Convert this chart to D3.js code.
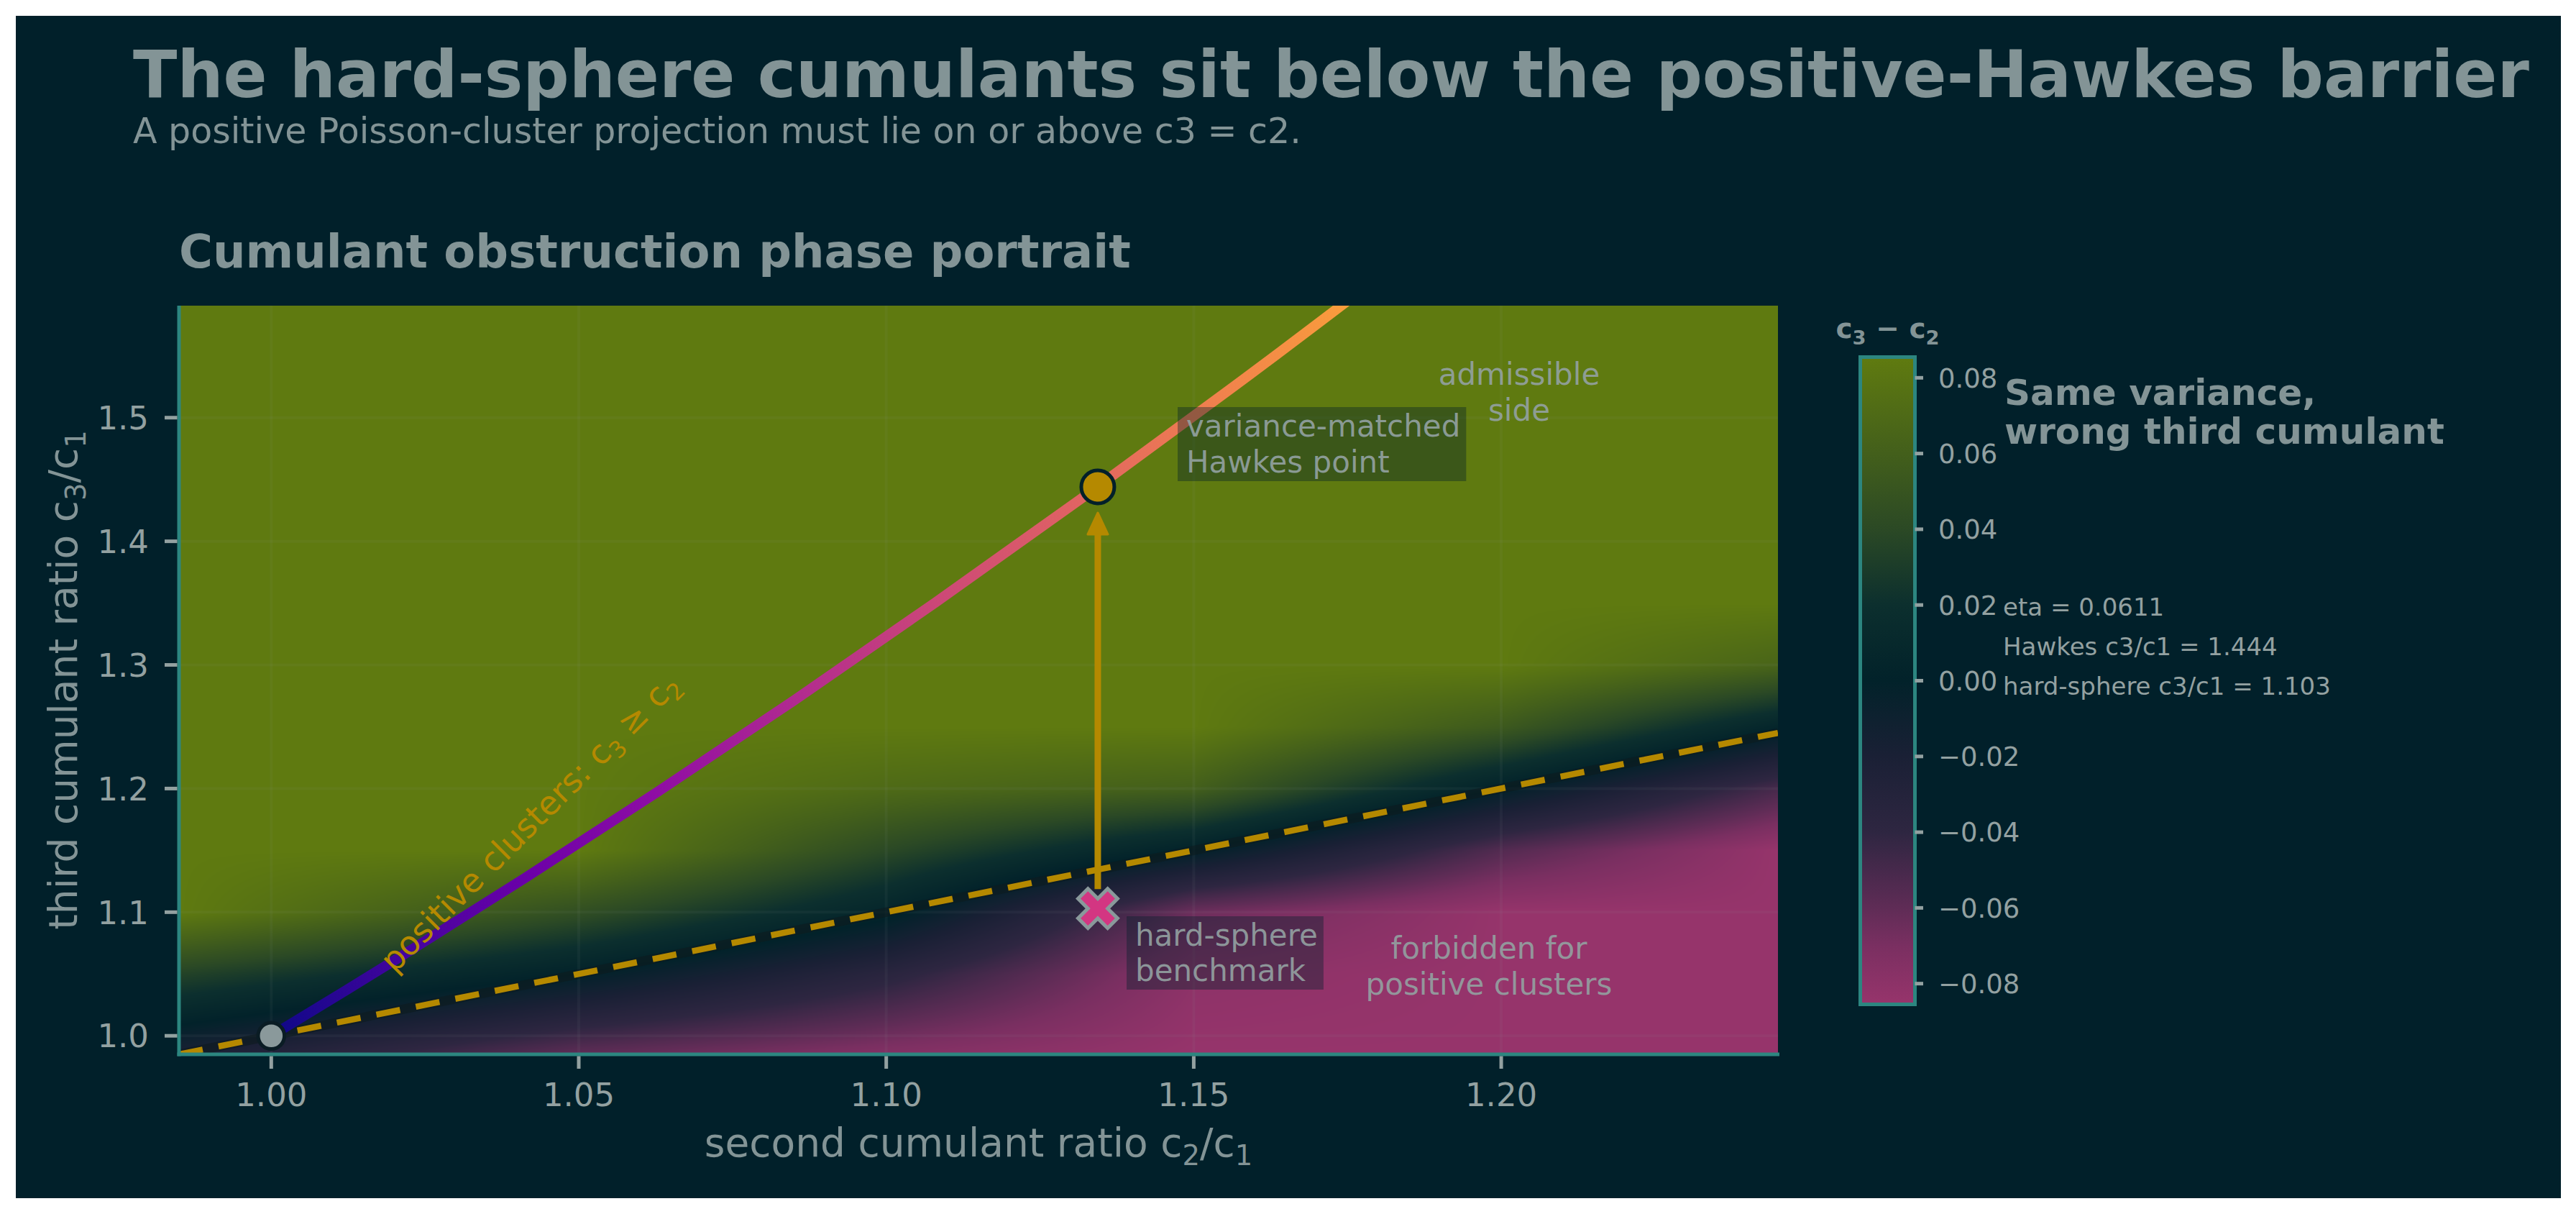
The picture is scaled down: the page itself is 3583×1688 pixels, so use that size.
<!DOCTYPE html>
<html>
<head>
<meta charset="utf-8">
<script src="https://cdn.jsdelivr.net/npm/d3@7"></script>
<style>
  body { margin: 0; background: #ffffff; }
  svg { display: block; }
  text { font-family: "DejaVu Sans", sans-serif; }
</style>
</head>
<body>
<div id="chart"></div>
<script>
// ---- data ----
var xTicks = [1.00, 1.05, 1.10, 1.15, 1.20];
var yTicks = [1.0, 1.1, 1.2, 1.3, 1.4, 1.5];
var cbarTicks = [0.08, 0.06, 0.04, 0.02, 0.00, -0.02, -0.04, -0.06, -0.08];

// positive Hawkes curve: branching ratio, c2/c1, c3/c1
var hawkesEta = [0.00, 0.01, 0.02, 0.03, 0.04, 0.05, 0.06, 0.07, 0.08, 0.09, 0.10];
var hawkesC2 = [1.0000, 1.0203, 1.0412, 1.0628, 1.0851, 1.1080, 1.1317, 1.1562, 1.1815, 1.2076, 1.2346];
var hawkesC3 = [1.0000, 1.0618, 1.1275, 1.1973, 1.2716, 1.3505, 1.4345, 1.5240, 1.6192, 1.7208, 1.8290];

// barrier c3 = c2
var barrierC2 = [0.985, 1.245];
var barrierC3 = [0.985, 1.245];

// markers: Poisson origin, variance-matched Hawkes point, hard-sphere benchmark
var markNames = ["origin", "hawkes", "hardsphere"];
var markC2 = [1.0, 1.1344, 1.1344];
var markC3 = [1.0, 1.444, 1.103];
var etaMatched = 0.0611;

// background field c3 - c2 on a coarse grid (rows = c3/c1, cols = c2/c1)
var fieldC2 = [0.985, 1.05, 1.10, 1.15, 1.20, 1.245];
var fieldC3 = [0.985, 1.05, 1.10, 1.15, 1.20, 1.25, 1.30, 1.35, 1.591];
var fieldGap = [
  [-0.020, -0.060, -0.075, -0.085, -0.085, -0.085],
  [ 0.035,  0.000, -0.035, -0.080, -0.085, -0.085],
  [ 0.085,  0.045,  0.005, -0.065, -0.085, -0.085],
  [ 0.085,  0.085,  0.040,  0.000, -0.055, -0.085],
  [ 0.085,  0.085,  0.070,  0.060,  0.000, -0.050],
  [ 0.085,  0.085,  0.085,  0.085,  0.055,  0.005],
  [ 0.085,  0.085,  0.085,  0.085,  0.085,  0.065],
  [ 0.085,  0.085,  0.085,  0.085,  0.085,  0.085],
  [ 0.085,  0.085,  0.085,  0.085,  0.085,  0.085]
];

// ---- layout ----
var W = 3583, H = 1688;
var plot = {left: 249, right: 2473, top: 425, bottom: 1466};
var cbar = {left: 2590, right: 2661, top: 499, bottom: 1394};

var bg = "#01202a", txt = "#839496", txtLight = "#93a1a1", spine = "#2c8680";
var gold = "#b58900", magenta = "#d33682";

var svg = d3.select("#chart").append("svg")
    .attr("width", W)
    .attr("height", H);

svg.append("rect")
    .attr("x", 22).attr("y", 22)
    .attr("width", 3540).attr("height", 1644)
    .attr("fill", bg);

var x = d3.scaleLinear().domain([0.985, 1.245]).range([plot.left, plot.right]);
var y = d3.scaleLinear().domain([0.985, 1.5906]).range([plot.bottom, plot.top]);
var yc = d3.scaleLinear().domain([-0.085, 0.085]).range([cbar.bottom, cbar.top]);

var gapColor = d3.scaleLinear()
    .domain([-0.085, -0.07, -0.06, -0.04, -0.02, 0, 0.02, 0.04, 0.06, 0.085])
    .range(["#96346b", "#7a2f61", "#5f2c56", "#2e2641", "#1a2035", "#02222a", "#0c2f2e", "#2b4925", "#435f1b", "#5f7a10"])
    .clamp(true);

// subscript helper: parts are strings, or [string] for a subscript
function rich(sel, parts, fs) {
  var shift = 0;
  parts.forEach(function(p) {
    var sub = Array.isArray(p);
    var t = sel.append("tspan").text(sub ? p[0] : p);
    var target = sub ? fs * 0.22 : 0;
    if (target !== shift) { t.attr("dy", target - shift); shift = target; }
    if (sub) t.attr("font-size", fs * 0.7);
  });
}

var defs = svg.append("defs");
defs.append("clipPath").attr("id", "plotclip")
  .append("rect")
    .attr("x", plot.left).attr("y", plot.top)
    .attr("width", plot.right - plot.left).attr("height", plot.bottom - plot.top);

// ---- colour field ----
function gapAt(c2, c3) {
  var i = Math.max(0, Math.min(fieldC2.length - 2, d3.bisectRight(fieldC2, c2) - 1));
  var j = Math.max(0, Math.min(fieldC3.length - 2, d3.bisectRight(fieldC3, c3) - 1));
  var tx = Math.max(0, Math.min(1, (c2 - fieldC2[i]) / (fieldC2[i + 1] - fieldC2[i])));
  var ty = Math.max(0, Math.min(1, (c3 - fieldC3[j]) / (fieldC3[j + 1] - fieldC3[j])));
  var a = fieldGap[j][i], b = fieldGap[j][i + 1], c = fieldGap[j + 1][i], d = fieldGap[j + 1][i + 1];
  return (a * (1 - tx) + b * tx) * (1 - ty) + (c * (1 - tx) + d * tx) * ty;
}

var pw = plot.right - plot.left, ph = plot.bottom - plot.top;
var canvas = document.createElement("canvas");
canvas.width = pw; canvas.height = ph;
var ctx = canvas.getContext("2d");
var img = ctx.createImageData(pw, ph);
for (var r = 0; r < ph; r++) {
  var c3v = y.invert(plot.top + r + 0.5);
  for (var k = 0; k < pw; k++) {
    var col = d3.rgb(gapColor(gapAt(x.invert(plot.left + k + 0.5), c3v)));
    var o = (r * pw + k) * 4;
    img.data[o] = col.r; img.data[o + 1] = col.g; img.data[o + 2] = col.b; img.data[o + 3] = 255;
  }
}
ctx.putImageData(img, 0, 0);

svg.append("image")
    .attr("x", plot.left).attr("y", plot.top)
    .attr("width", pw).attr("height", ph)
    .attr("preserveAspectRatio", "none")
    .attr("href", canvas.toDataURL());

// grid
var grid = svg.append("g").attr("stroke", txtLight).attr("stroke-opacity", 0.07).attr("stroke-width", 4);
grid.selectAll("line.gx").data(xTicks).join("line")
    .attr("x1", d => x(d)).attr("x2", d => x(d))
    .attr("y1", plot.top).attr("y2", plot.bottom);
grid.selectAll("line.gy").data(yTicks).join("line")
    .attr("x1", plot.left).attr("x2", plot.right)
    .attr("y1", d => y(d)).attr("y2", d => y(d));

var inner = svg.append("g").attr("clip-path", "url(#plotclip)");

// barrier c3 = c2
var barrierLine = d3.line().x(d => x(d[0])).y(d => y(d[1]));
var barrierPts = barrierC2.map((d, i) => [d, barrierC3[i]]);
inner.append("path")
    .attr("d", barrierLine(barrierPts))
    .attr("fill", "none")
    .attr("stroke", "#0d1a1e").attr("stroke-opacity", 0.6)
    .attr("stroke-width", 13);
inner.append("path")
    .attr("d", barrierLine(barrierPts))
    .attr("fill", "none")
    .attr("stroke", gold)
    .attr("stroke-width", 8.5)
    .attr("stroke-dasharray", "33.6,22.4");

// Hawkes curve with plasma gradient along its length
var hawkesPts = hawkesC2.map((d, i) => [d, hawkesC3[i]]);
var p0 = [x(hawkesC2[0]), y(hawkesC3[0])];
var p1 = [x(hawkesC2[hawkesC2.length - 1]), y(hawkesC3[hawkesC3.length - 1])];
var gdx = p1[0] - p0[0], gdy = p1[1] - p0[1], gl2 = gdx * gdx + gdy * gdy;
var grad = defs.append("linearGradient").attr("id", "plasma")
    .attr("gradientUnits", "userSpaceOnUse")
    .attr("x1", p0[0]).attr("y1", p0[1]).attr("x2", p1[0]).attr("y2", p1[1]);
grad.selectAll("stop").data(hawkesEta).join("stop")
    .attr("offset", (d, i) => ((x(hawkesC2[i]) - p0[0]) * gdx + (y(hawkesC3[i]) - p0[1]) * gdy) / gl2)
    .attr("stop-color", d => d3.interpolatePlasma(d / 0.1));

inner.append("path")
    .attr("d", d3.line().curve(d3.curveCatmullRom).x(d => x(d[0])).y(d => y(d[1]))(hawkesPts))
    .attr("fill", "none")
    .attr("stroke", "url(#plasma)")
    .attr("stroke-width", 14)
    .attr("stroke-linecap", "round");

// label along the barrier
var posLab = svg.append("text")
    .attr("transform", "translate(" + x(1.02) + "," + y(1.05) + ") rotate(-45)")
    .attr("font-size", 46)
    .attr("fill", gold);
rich(posLab, ["positive clusters: c", ["3"], " \u2265 c", ["2"]], 46);

// arrow from hard-sphere up to Hawkes point
var ax = x(markC2[2]);
var aStart = y(markC3[2]) - 27, aTip = y(markC3[1]) + 36;
svg.append("line")
    .attr("x1", ax).attr("x2", ax)
    .attr("y1", aStart).attr("y2", aTip + 26)
    .attr("stroke", gold).attr("stroke-width", 9);
svg.append("path")
    .attr("d", "M" + ax + "," + aTip + "L" + (ax + 14) + "," + (aTip + 30) + "L" + (ax - 14) + "," + (aTip + 30) + "Z")
    .attr("fill", gold).attr("stroke", gold).attr("stroke-width", 3).attr("stroke-linejoin", "round");

// markers
svg.append("circle")
    .attr("cx", x(markC2[0])).attr("cy", y(markC3[0])).attr("r", 18.3)
    .attr("fill", "#8a999b").attr("stroke", "#0a1c24").attr("stroke-width", 5);
svg.append("circle")
    .attr("cx", x(markC2[1])).attr("cy", y(markC3[1])).attr("r", 23)
    .attr("fill", gold).attr("stroke", "#02202a").attr("stroke-width", 5);
svg.append("path")
    .attr("d", d3.symbol(d3.symbolCross, 1880)())
    .attr("transform", "translate(" + x(markC2[2]) + "," + y(markC3[2]) + ") rotate(45)")
    .attr("fill", magenta).attr("stroke", "#8a999b").attr("stroke-width", 5);

// boxed annotations
function boxed(lines, tx, baselines, fs) {
  var g = svg.append("g");
  var rect = g.append("rect").attr("fill", bg).attr("fill-opacity", 0.38);
  var t = g.append("text").attr("font-size", fs).attr("fill", txtLight).attr("fill-opacity", 0.92);
  lines.forEach(function(l, i) {
    t.append("tspan").attr("x", tx).attr("y", baselines[i]).text(l);
  });
  var bb = t.node().getBBox();
  rect.attr("x", bb.x - 12).attr("y", bb.y - 2)
      .attr("width", bb.width + 20).attr("height", bb.height + 4);
}
boxed(["variance-matched", "Hawkes point"], 1650, [607, 657], 42);
boxed(["hard-sphere", "benchmark"], 1579, [1315, 1364], 42);

function plain(lines, tx, baselines, fs, anchor) {
  var t = svg.append("text").attr("font-size", fs).attr("fill", txtLight)
      .attr("fill-opacity", 0.92).attr("text-anchor", anchor);
  lines.forEach(function(l, i) {
    t.append("tspan").attr("x", tx).attr("y", baselines[i]).text(l);
  });
}
plain(["admissible", "side"], 2113, [535, 585], 42, "middle");
plain(["forbidden for", "positive clusters"], 2071, [1333, 1383], 42, "middle");

// spines
svg.append("line")
    .attr("x1", plot.left).attr("x2", plot.left)
    .attr("y1", plot.top).attr("y2", plot.bottom + 2.5)
    .attr("stroke", spine).attr("stroke-width", 5);
svg.append("line")
    .attr("x1", plot.left - 2.5).attr("x2", plot.right + 2)
    .attr("y1", plot.bottom).attr("y2", plot.bottom)
    .attr("stroke", spine).attr("stroke-width", 5);

// axes ticks
var fmtX = d3.format(".2f"), fmtY = d3.format(".1f");
svg.selectAll("line.xt").data(xTicks).join("line")
    .attr("x1", d => x(d)).attr("x2", d => x(d))
    .attr("y1", plot.bottom + 2.5).attr("y2", plot.bottom + 20)
    .attr("stroke", txtLight).attr("stroke-width", 5);
svg.selectAll("text.xt").data(xTicks).join("text")
    .attr("x", d => x(d)).attr("y", 1538)
    .attr("text-anchor", "middle")
    .attr("font-size", 45).attr("fill", txtLight)
    .text(d => fmtX(d));
svg.selectAll("line.yt").data(yTicks).join("line")
    .attr("x1", plot.left - 20).attr("x2", plot.left - 2.5)
    .attr("y1", d => y(d)).attr("y2", d => y(d))
    .attr("stroke", txtLight).attr("stroke-width", 5);
svg.selectAll("text.yt").data(yTicks).join("text")
    .attr("x", 207).attr("y", d => y(d))
    .attr("dy", "0.36em")
    .attr("text-anchor", "end")
    .attr("font-size", 45).attr("fill", txtLight)
    .text(d => fmtY(d));

// axis labels
var xl = svg.append("text")
    .attr("x", (plot.left + plot.right) / 2).attr("y", 1608)
    .attr("text-anchor", "middle")
    .attr("font-size", 55).attr("fill", txt);
rich(xl, ["second cumulant ratio c", ["2"], "/c", ["1"]], 55);
var yl = svg.append("text")
    .attr("transform", "translate(107," + (plot.top + plot.bottom) / 2 + ") rotate(-90)")
    .attr("text-anchor", "middle")
    .attr("font-size", 55).attr("fill", txt);
rich(yl, ["third cumulant ratio c", ["3"], "/c", ["1"]], 55);

// ---- colour bar ----
var cg = defs.append("linearGradient").attr("id", "cbar")
    .attr("x1", 0).attr("y1", 1).attr("x2", 0).attr("y2", 0);
cg.selectAll("stop").data(gapColor.domain()).join("stop")
    .attr("offset", d => (d + 0.085) / 0.17)
    .attr("stop-color", d => gapColor(d));
svg.append("rect")
    .attr("x", cbar.left).attr("y", cbar.top)
    .attr("width", cbar.right - cbar.left).attr("height", cbar.bottom - cbar.top)
    .attr("fill", "url(#cbar)");
svg.append("rect")
    .attr("x", cbar.left - 2.5).attr("y", cbar.top - 2.5)
    .attr("width", cbar.right - cbar.left + 5).attr("height", cbar.bottom - cbar.top + 5)
    .attr("fill", "none").attr("stroke", spine).attr("stroke-width", 5);
svg.selectAll("line.ct").data(cbarTicks).join("line")
    .attr("x1", cbar.right + 2.5).attr("x2", cbar.right + 14)
    .attr("y1", d => yc(d)).attr("y2", d => yc(d))
    .attr("stroke", txtLight).attr("stroke-width", 5);
svg.selectAll("text.ct").data(cbarTicks).join("text")
    .attr("x", 2696).attr("y", d => yc(d))
    .attr("dy", "0.36em")
    .attr("font-size", 37).attr("fill", txtLight)
    .text(d => d3.format(".2f")(d));
var cl = svg.append("text")
    .attr("x", (cbar.left + cbar.right) / 2).attr("y", 470)
    .attr("text-anchor", "middle")
    .attr("font-size", 39).attr("font-weight", "bold").attr("fill", txt);
rich(cl, ["c", ["3"], " \u2212 c", ["2"]], 39);

// side notes
var side = svg.append("text").attr("font-size", 50).attr("font-weight", "bold").attr("fill", txt);
side.append("tspan").attr("x", 2788).attr("y", 563).text("Same variance,");
side.append("tspan").attr("x", 2788).attr("y", 617).text("wrong third cumulant");

var stats = [
  "eta = " + d3.format(".4f")(etaMatched),
  "Hawkes c3/c1 = " + d3.format(".3f")(markC3[1]),
  "hard-sphere c3/c1 = " + d3.format(".3f")(markC3[2])
];
svg.append("g").selectAll("text").data(stats).join("text")
    .attr("x", 2786).attr("y", (d, i) => 856 + i * 55)
    .attr("font-size", 34).attr("fill", txtLight)
    .text(d => d);

// ---- titles ----
svg.append("text")
    .attr("x", 185).attr("y", 135)
    .attr("font-size", 90).attr("font-weight", "bold").attr("fill", txt)
    .text("The hard-sphere cumulants sit below the positive-Hawkes barrier");
svg.append("text")
    .attr("x", 185).attr("y", 199)
    .attr("font-size", 49).attr("fill", txt)
    .text("A positive Poisson-cluster projection must lie on or above c3 = c2.");
svg.append("text")
    .attr("x", 249).attr("y", 372)
    .attr("font-size", 64).attr("font-weight", "bold").attr("fill", txt)
    .text("Cumulant obstruction phase portrait");
</script>
</body>
</html>
